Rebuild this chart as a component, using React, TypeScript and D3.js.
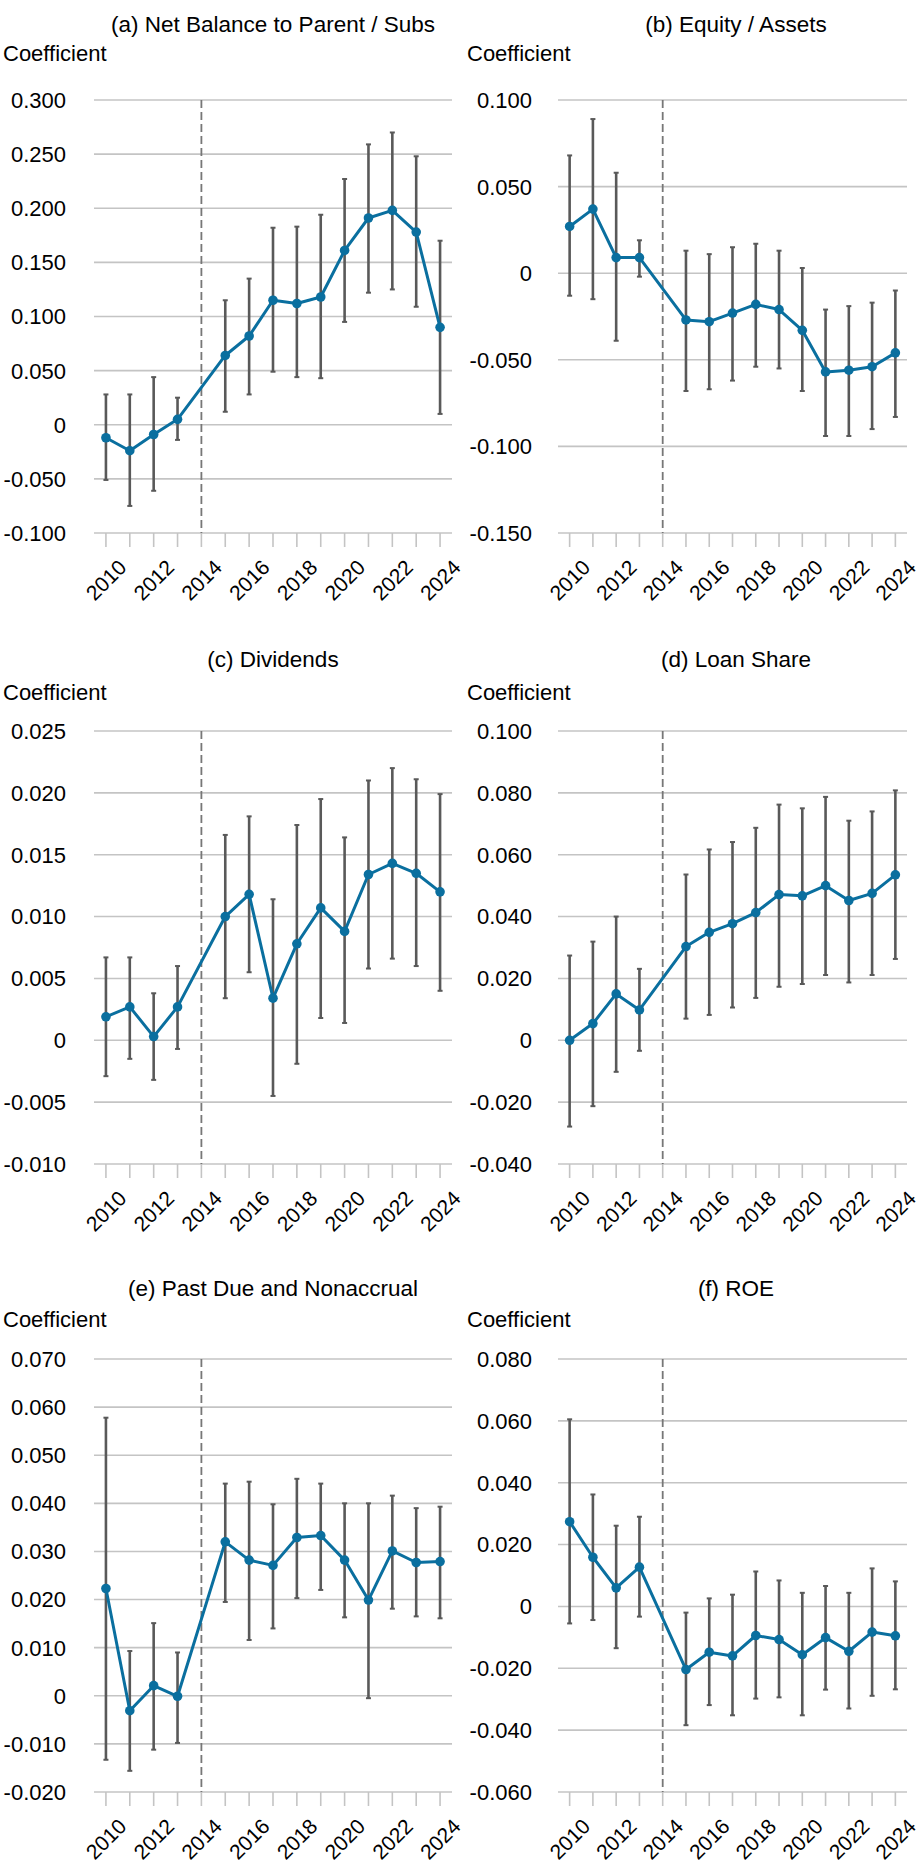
import React, { useEffect, useRef } from 'react';
import * as d3 from 'd3';

// years on the x axis; 2014 is the reference year (no estimate)
const years = [2010, 2011, 2012, 2013, 2014, 2015, 2016, 2017, 2018, 2019, 2020, 2021, 2022, 2023, 2024];
const labelYears = [2010, 2012, 2014, 2016, 2018, 2020, 2022, 2024];
const refYear = 2014;

// (a) Net Balance to Parent / Subs
const netBalanceCoef = [-0.012, -0.024, -0.009, 0.005, null, 0.064, 0.082, 0.115, 0.112, 0.118, 0.161, 0.191, 0.198, 0.178, 0.090];
const netBalanceLow = [-0.051, -0.075, -0.061, -0.014, null, 0.012, 0.028, 0.049, 0.044, 0.043, 0.095, 0.122, 0.125, 0.109, 0.010];
const netBalanceHigh = [0.028, 0.028, 0.044, 0.025, null, 0.115, 0.135, 0.182, 0.183, 0.194, 0.227, 0.259, 0.270, 0.248, 0.170];

// (b) Equity / Assets
const equityCoef = [0.027, 0.037, 0.009, 0.009, null, -0.027, -0.028, -0.023, -0.018, -0.021, -0.033, -0.057, -0.056, -0.054, -0.046];
const equityLow = [-0.013, -0.015, -0.039, -0.002, null, -0.068, -0.067, -0.062, -0.054, -0.055, -0.068, -0.094, -0.094, -0.090, -0.083];
const equityHigh = [0.068, 0.089, 0.058, 0.019, null, 0.013, 0.011, 0.015, 0.017, 0.013, 0.003, -0.021, -0.019, -0.017, -0.010];

// (c) Dividends
const dividendsCoef = [0.0019, 0.0027, 0.0003, 0.0027, null, 0.0100, 0.0118, 0.0034, 0.0078, 0.0107, 0.0088, 0.0134, 0.0143, 0.0135, 0.0120];
const dividendsLow = [-0.0029, -0.0015, -0.0032, -0.0007, null, 0.0034, 0.0055, -0.0045, -0.0019, 0.0018, 0.0014, 0.0058, 0.0066, 0.0060, 0.0040];
const dividendsHigh = [0.0067, 0.0067, 0.0038, 0.0060, null, 0.0166, 0.0181, 0.0114, 0.0174, 0.0195, 0.0164, 0.0210, 0.0220, 0.0211, 0.0199];

// (d) Loan Share
const loanShareCoef = [0.0, 0.0054, 0.015, 0.0098, null, 0.0303, 0.0349, 0.0377, 0.0413, 0.0471, 0.0467, 0.0500, 0.0452, 0.0475, 0.0535];
const loanShareLow = [-0.0279, -0.0213, -0.0102, -0.0034, null, 0.0070, 0.0082, 0.0106, 0.0137, 0.0173, 0.0182, 0.0211, 0.0187, 0.0211, 0.0263];
const loanShareHigh = [0.0274, 0.0319, 0.0400, 0.0231, null, 0.0536, 0.0617, 0.0641, 0.0687, 0.0762, 0.0750, 0.0787, 0.0710, 0.0740, 0.0808];

// (e) Past Due and Nonaccrual
const pastDueCoef = [0.0223, -0.0031, 0.0021, -0.0001, null, 0.0320, 0.0282, 0.0271, 0.0329, 0.0333, 0.0282, 0.0199, 0.0301, 0.0277, 0.0279];
const pastDueLow = [-0.0133, -0.0156, -0.0112, -0.0098, null, 0.0195, 0.0116, 0.0140, 0.0203, 0.0220, 0.0163, -0.0005, 0.0181, 0.0165, 0.0161];
const pastDueHigh = [0.0578, 0.0093, 0.0151, 0.0090, null, 0.0441, 0.0445, 0.0398, 0.0451, 0.0441, 0.0400, 0.0400, 0.0416, 0.0390, 0.0393];

// (f) ROE
const roeCoef = [0.0274, 0.0159, 0.0060, 0.0127, null, -0.0204, -0.0148, -0.0160, -0.0094, -0.0107, -0.0156, -0.0101, -0.0145, -0.0083, -0.0095];
const roeLow = [-0.0055, -0.0044, -0.0135, -0.0033, null, -0.0384, -0.0319, -0.0352, -0.0298, -0.0294, -0.0352, -0.0269, -0.0330, -0.0289, -0.0268];
const roeHigh = [0.0605, 0.0362, 0.0261, 0.0290, null, -0.0020, 0.0026, 0.0038, 0.0113, 0.0084, 0.0044, 0.0066, 0.0044, 0.0123, 0.0081];

// y axis ranges [min, max, step]
const netBalanceAxis = [-0.1, 0.3, 0.05];
const equityAxis = [-0.15, 0.1, 0.05];
const dividendsAxis = [-0.01, 0.025, 0.005];
const loanShareAxis = [-0.04, 0.1, 0.02];
const pastDueAxis = [-0.02, 0.07, 0.01];
const roeAxis = [-0.06, 0.08, 0.02];

const titles = [
  '(a) Net Balance to Parent / Subs',
  '(b) Equity / Assets',
  '(c) Dividends',
  '(d) Loan Share',
  '(e) Past Due and Nonaccrual',
  '(f) ROE',
];

interface Panel {
  title: string;
  coef: (number | null)[];
  low: (number | null)[];
  high: (number | null)[];
  axis: number[];
}

const panels: Panel[] = [
  { title: titles[0], coef: netBalanceCoef, low: netBalanceLow, high: netBalanceHigh, axis: netBalanceAxis },
  { title: titles[1], coef: equityCoef, low: equityLow, high: equityHigh, axis: equityAxis },
  { title: titles[2], coef: dividendsCoef, low: dividendsLow, high: dividendsHigh, axis: dividendsAxis },
  { title: titles[3], coef: loanShareCoef, low: loanShareLow, high: loanShareHigh, axis: loanShareAxis },
  { title: titles[4], coef: pastDueCoef, low: pastDueLow, high: pastDueHigh, axis: pastDueAxis },
  { title: titles[5], coef: roeCoef, low: roeLow, high: roeHigh, axis: roeAxis },
];

const WIDTH = 920;
const HEIGHT = 1873;
const FONT = '"Liberation Sans", Arial, sans-serif';
const LINE_COLOR = '#0a6f9f';
const BAR_COLOR = '#595959';
const GRID_COLOR = '#c4c4c4';

// column / row geometry
const colLeft = [94, 558];
const colRight = [452, 907];
const colLabelX = [66, 532];
const colCoefX = [3, 467];
const colTitleX = [273, 736];
const rowTop = [100, 731, 1359];
const rowTitleY = [32, 667, 1296];
const rowCoefY = [61, 700, 1327];
const PLOT_H = 433;

const fmt = (v: number) => (Math.abs(v) < 1e-9 ? '0' : v.toFixed(3));

export default function App() {
  const svgRef = useRef<SVGSVGElement>(null);

  useEffect(() => {
    if (!svgRef.current) return;
    const svg = d3.select(svgRef.current);
    svg.selectAll('*').remove();

    svg.append('rect').attr('width', WIDTH).attr('height', HEIGHT).attr('fill', '#ffffff');

    panels.forEach((p, i) => {
      const col = i % 2;
      const row = Math.floor(i / 2);
      const top = rowTop[row];
      const bottom = top + PLOT_H;

      const x = d3.scalePoint<number>()
        .domain(years)
        .range([colLeft[col], colRight[col]])
        .padding(0.5);

      const [yMin, yMax, yStep] = p.axis;
      const y = d3.scaleLinear().domain([yMin, yMax]).range([bottom, top]);
      const ticks = d3.range(0, Math.round((yMax - yMin) / yStep) + 1).map(k => yMin + k * yStep);

      const g = svg.append('g').attr('font-family', FONT).attr('font-size', 22);

      // title and axis name
      g.append('text')
        .attr('x', colTitleX[col])
        .attr('y', rowTitleY[row])
        .attr('text-anchor', 'middle')
        .attr('font-size', 22.5)
        .attr('fill', '#000')
        .text(p.title);

      g.append('text')
        .attr('x', colCoefX[col])
        .attr('y', rowCoefY[row])
        .attr('fill', '#000')
        .text('Coefficient');

      // gridlines
      g.selectAll('.grid')
        .data(ticks)
        .enter()
        .append('line')
        .attr('x1', colLeft[col])
        .attr('x2', colRight[col])
        .attr('y1', d => y(d))
        .attr('y2', d => y(d))
        .attr('stroke', GRID_COLOR)
        .attr('stroke-width', 1.6);

      // y tick labels
      g.selectAll('.ylab')
        .data(ticks)
        .enter()
        .append('text')
        .attr('x', colLabelX[col])
        .attr('y', d => y(d))
        .attr('dy', '0.36em')
        .attr('text-anchor', 'end')
        .attr('fill', '#000')
        .text(d => fmt(d));

      // x ticks
      g.selectAll('.xtick')
        .data(years)
        .enter()
        .append('line')
        .attr('x1', d => x(d)!)
        .attr('x2', d => x(d)!)
        .attr('y1', bottom)
        .attr('y2', bottom + 14)
        .attr('stroke', GRID_COLOR)
        .attr('stroke-width', 1.6);

      // x labels (rotated)
      g.selectAll('.xlab')
        .data(labelYears)
        .enter()
        .append('text')
        .attr('transform', d => `translate(${x(d)},${bottom + 47}) rotate(-45)`)
        .attr('text-anchor', 'middle')
        .attr('dy', '0.36em')
        .attr('font-size', 21)
        .attr('fill', '#000')
        .text(d => String(d));

      // reference year dashed line
      g.append('line')
        .attr('x1', x(refYear)!)
        .attr('x2', x(refYear)!)
        .attr('y1', top)
        .attr('y2', bottom)
        .attr('stroke', '#777777')
        .attr('stroke-width', 1.8)
        .attr('stroke-dasharray', '8,4');

      const pts = years
        .map((yr, k) => ({ yr, c: p.coef[k], lo: p.low[k], hi: p.high[k] }))
        .filter(d => d.c !== null) as { yr: number; c: number; lo: number; hi: number }[];

      // error bars
      const bars = g.selectAll('.bar').data(pts).enter().append('g');
      bars.append('line')
        .attr('x1', d => x(d.yr)!)
        .attr('x2', d => x(d.yr)!)
        .attr('y1', d => y(d.lo))
        .attr('y2', d => y(d.hi))
        .attr('stroke', BAR_COLOR)
        .attr('stroke-width', 2.6);
      ['lo', 'hi'].forEach(key => {
        bars.append('line')
          .attr('x1', d => x(d.yr)! - 2.5)
          .attr('x2', d => x(d.yr)! + 2.5)
          .attr('y1', d => y((d as any)[key]))
          .attr('y2', d => y((d as any)[key]))
          .attr('stroke', BAR_COLOR)
          .attr('stroke-width', 2);
      });

      // coefficient line
      const line = d3.line<{ yr: number; c: number }>()
        .x(d => x(d.yr)!)
        .y(d => y(d.c));

      g.append('path')
        .datum(pts)
        .attr('d', line)
        .attr('fill', 'none')
        .attr('stroke', LINE_COLOR)
        .attr('stroke-width', 3)
        .attr('stroke-linejoin', 'round');

      g.selectAll('.dot')
        .data(pts)
        .enter()
        .append('circle')
        .attr('cx', d => x(d.yr)!)
        .attr('cy', d => y(d.c))
        .attr('r', 4.8)
        .attr('fill', LINE_COLOR);
    });
  }, []);

  return (
    <div style={{ position: 'absolute', left: 0, top: 0 }}>
      <svg ref={svgRef} width={WIDTH} height={HEIGHT} />
    </div>
  );
}
